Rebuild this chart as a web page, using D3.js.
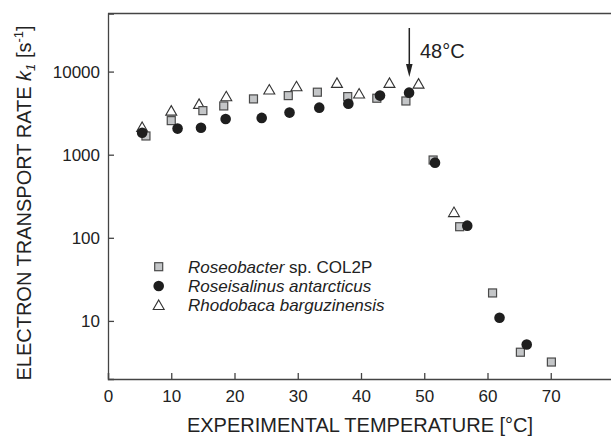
<!DOCTYPE html>
<html>
<head>
<meta charset="utf-8">
<script src="https://cdn.jsdelivr.net/npm/d3@7"></script>
<style>
  body { margin: 0; background: #fff; }
  svg { font-family: "Liberation Sans", Arial, sans-serif; }
</style>
</head>
<body>
<div id="vis"></div>
<script>
// data
var tempRoseo = [6.0, 10.0, 15.0, 18.3, 23.0, 28.5, 33.1, 37.9, 42.5, 47.1, 51.4, 55.6, 60.8, 65.2, 70.1];
var rateRoseo = [1680, 2570, 3390, 3860, 4690, 5140, 5650, 5000, 4780, 4430, 863, 136, 21.7, 4.2, 3.2];
var tempRosei = [5.4, 11.0, 14.7, 18.6, 24.3, 28.7, 33.4, 38.0, 43.0, 47.6, 51.7, 56.8, 61.9, 66.2];
var rateRosei = [1840, 2060, 2110, 2690, 2770, 3210, 3680, 4110, 5140, 5580, 802, 140, 10.9, 5.2];
var tempRhodo = [5.4, 10.0, 14.4, 18.7, 25.5, 29.8, 36.2, 39.7, 44.5, 49.1, 54.7];
var rateRhodo = [2140, 3360, 4050, 5000, 6020, 6600, 7250, 5390, 7250, 7100, 202];
var xTicks = [0, 10, 20, 30, 40, 50, 60, 70];
var yTicks = [10, 100, 1000, 10000];

var width = 611, height = 441;
var margin = { left: 108, top: 13.5, bottom: 379 };
var ink = "#222", axisCol = "#444";

var svg = d3.select("#vis").append("svg")
  .attr("width", width)
  .attr("height", height);

var x = d3.scaleLinear().domain([0, 80]).range([margin.left, 614]);
var y = d3.scaleLog().domain([2, 50000]).range([margin.bottom, margin.top]);

////////// axes //////////
var xAxis = svg.append("g")
  .attr("transform", "translate(0," + margin.bottom + ")")
  .call(d3.axisBottom(x).tickValues(xTicks).tickSize(-6).tickPadding(11).tickFormat(d3.format("d")));
var yAxis = svg.append("g")
  .attr("transform", "translate(" + margin.left + ",0)")
  .call(d3.axisLeft(y).tickValues(yTicks).tickSize(-6).tickPadding(8).tickFormat(d3.format("d")));

[xAxis, yAxis].forEach(function (a) {
  a.select(".domain").attr("stroke", axisCol).attr("stroke-width", 1.3);
  a.selectAll(".tick line").attr("stroke", axisCol).attr("stroke-width", 1.3);
  a.selectAll(".tick text").attr("fill", ink).style("font-size", "17px")
    .style("font-family", "'Liberation Sans', Arial, sans-serif");
});

// top frame line
svg.append("line")
  .attr("x1", margin.left).attr("x2", width)
  .attr("y1", margin.top).attr("y2", margin.top)
  .attr("stroke", axisCol).attr("stroke-width", 1.3);

// axis titles
svg.append("text")
  .attr("x", 360).attr("y", 432)
  .attr("text-anchor", "middle")
  .attr("fill", ink)
  .style("font-size", "20px")
  .text("EXPERIMENTAL TEMPERATURE [°C]");

var yt = svg.append("text")
  .attr("transform", "translate(31,203) rotate(-90)")
  .attr("text-anchor", "middle")
  .attr("fill", ink)
  .style("font-size", "20px");
yt.append("tspan").text("ELECTRON TRANSPORT RATE ");
yt.append("tspan").style("font-style", "italic").text("k");
yt.append("tspan").style("font-style", "italic").style("font-size", "13px").attr("dy", 4).text("1");
yt.append("tspan").attr("dy", -4).text(" [s");
yt.append("tspan").style("font-size", "13px").attr("dy", -8).text("-1");
yt.append("tspan").attr("dy", 8).text("]");

////////// markers //////////
var sq = 8, tri = d3.symbol().type(d3.symbolTriangle).size(52);

function drawSquare(g, cx, cy) {
  g.append("rect")
    .attr("x", cx - sq / 2).attr("y", cy - sq / 2)
    .attr("width", sq).attr("height", sq)
    .attr("fill", "#c4c6c8").attr("stroke", "#4a4a4a").attr("stroke-width", 1.2);
}
function drawCircle(g, cx, cy) {
  g.append("circle")
    .attr("cx", cx).attr("cy", cy).attr("r", 5.3)
    .attr("fill", "#1e1e1e");
}
function drawTri(g, cx, cy) {
  g.append("path")
    .attr("d", tri)
    .attr("transform", "translate(" + cx + "," + (cy + 1) + ")")
    .attr("fill", "#fff").attr("stroke", "#333").attr("stroke-width", 1.1);
}

var pts = svg.append("g");
tempRhodo.forEach(function (t, i) { drawTri(pts, x(t), y(rateRhodo[i])); });
tempRoseo.forEach(function (t, i) { drawSquare(pts, x(t), y(rateRoseo[i])); });
tempRosei.forEach(function (t, i) { drawCircle(pts, x(t), y(rateRosei[i])); });

////////// legend //////////
var legend = svg.append("g");
var rows = [
  { mark: drawSquare, it: "Roseobacter", rest: " sp. COL2P" },
  { mark: drawCircle, it: "Roseisalinus antarcticus", rest: "" },
  { mark: drawTri, it: "Rhodobaca barguzinensis", rest: "" }
];
rows.forEach(function (r, i) {
  var cy = 266.7 + i * 19.3;
  r.mark(legend, 158.7, cy);
  var t = legend.append("text")
    .attr("x", 188).attr("y", cy + 6)
    .attr("fill", ink)
    .style("font-size", "17px");
  t.append("tspan").style("font-style", "italic").text(r.it);
  if (r.rest) t.append("tspan").text(r.rest);
});

////////// 48°C arrow //////////
svg.append("line")
  .attr("x1", 409.3).attr("x2", 409.3)
  .attr("y1", 28).attr("y2", 68)
  .attr("stroke", ink).attr("stroke-width", 1.5);
svg.append("path")
  .attr("d", d3.line()([[406, 64], [409.3, 77], [412.6, 64]]) + "Z")
  .attr("fill", ink);
svg.append("text")
  .attr("x", 420).attr("y", 58)
  .attr("fill", ink)
  .style("font-size", "20px")
  .text("48°C");
</script>
</body>
</html>
